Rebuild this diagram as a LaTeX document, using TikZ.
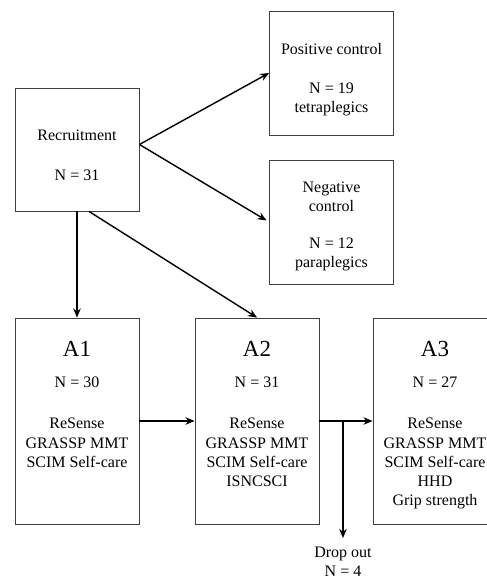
\documentclass[tikz,border=0pt]{standalone}
\usepackage{fontspec}
\setmainfont{Liberation Serif}
\usetikzlibrary{arrows.meta,calc}
\begin{document}
\begin{tikzpicture}[x=1pt,y=-1pt,
  box/.style={draw=black!75, line width=0.9pt, minimum width=124pt, inner sep=0pt},
  arr/.style={draw=black, line width=1.4pt, -{Stealth[length=9pt,width=7.5pt]}},
  txt/.style={font=\fontsize{16}{19}\selectfont, inner sep=0pt, anchor=base},
  big/.style={font=\fontsize{23}{27}\selectfont, inner sep=0pt, anchor=base}]
\useasboundingbox (0,0) rectangle (487,578);
% boxes
\node[box, minimum height=123pt] (rec) at (77,149.5) {};
\node[box, minimum height=124pt] (pos) at (331.5,73) {};
\node[box, minimum height=124pt] (neg) at (331.5,222) {};
\node[box, minimum height=206pt] (a1) at (77,421) {};
\node[box, minimum height=206pt] (a2) at (257,421) {};
\node[box, minimum height=206pt] (a3) at (435,421) {};
% texts
\node[txt] (t1) at (77,140) {Recruitment};
\node[txt] (t2) at (77,180) {N = 31};
\node[txt] (t3) at (331.5,55) {Positive control};
\node[txt] (t4) at (331.5,93) {N = 19};
\node[txt] (t5) at (331.5,112) {tetraplegics};
\node[txt] (t6) at (331.5,192) {Negative};
\node[txt] (t7) at (331.5,211) {control};
\node[txt] (t8) at (331.5,248) {N = 12};
\node[txt] (t9) at (331.5,267) {paraplegics};
% A1
\node[big] (a1h) at (77,356) {A1};
\node[txt] (a1n) at (77,387) {N = 30};
\node[txt] (a1a) at (77,428) {ReSense};
\node[txt] (a1b) at (77,448) {GRASSP MMT};
\node[txt] (a1c) at (77,467) {SCIM Self-care};
% A2
\node[big] (a2h) at (257,356) {A2};
\node[txt] (a2n) at (257,387) {N = 31};
\node[txt] (a2a) at (257,428) {ReSense};
\node[txt] (a2b) at (257,448) {GRASSP MMT};
\node[txt] (a2c) at (257,467) {SCIM Self-care};
\node[txt] (a2d) at (257,486) {ISNCSCI};
% A3
\node[big] (a3h) at (435,356) {A3};
\node[txt] (a3n) at (435,387) {N = 27};
\node[txt] (a3a) at (435,428) {ReSense};
\node[txt] (a3b) at (435,448) {GRASSP MMT};
\node[txt] (a3c) at (435,467) {SCIM Self-care};
\node[txt] (a3d) at (435,486) {HHD};
\node[txt] (a3e) at (435,505) {Grip strength};
% drop out
\node[txt] (d1) at (343,557) {Drop out};
\node[txt] (d2) at (343,576) {N = 4};
% connectors
\coordinate (rs) at ($(rec.east)+(0,-5)$);
\draw[arr] (rs) -- (pos.west);
\draw[arr, shorten >=3pt] (rs) -- (neg.west);
\draw[arr] (rec.south) -- (a1.north);
\draw[arr] ($(rec.south)+(12,0)$) -- (a2.north);
\draw[arr] (a1.east) -- (a2.west);
\draw[arr] (a2.east) -- (a3.west);
\coordinate (br) at (343,421);
\coordinate (dend) at (343,538);
\draw[arr] (br) -- (dend);
\end{tikzpicture}
\end{document}
